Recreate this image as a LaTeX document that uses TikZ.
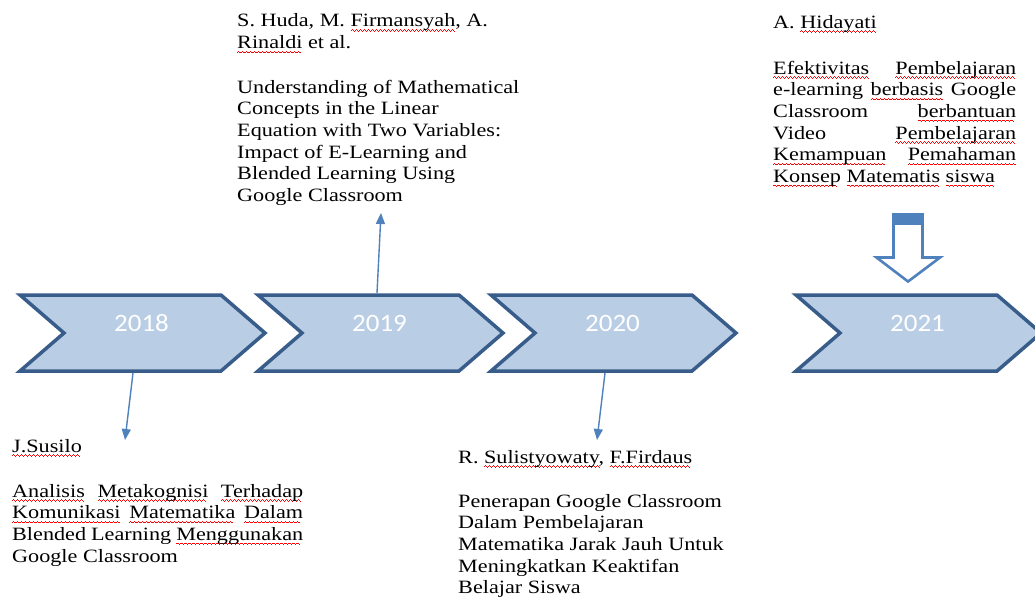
\documentclass[tikz,border=0pt]{standalone}
\usepackage{fontspec}
\setmainfont[FakeStretch=1.18]{Liberation Serif}
\newfontfamily\yearfont[FakeStretch=1.08]{Carlito}
\usetikzlibrary{arrows.meta}
\definecolor{chevfill}{RGB}{185,205,229}
\definecolor{chevline}{RGB}{56,93,138}
\definecolor{linkblue}{RGB}{79,129,189}
\newcommand\wavepiece{\hbox{{\color{red}\rule[0pt]{1pt}{0.7pt}\rule[0.6pt]{1pt}{0.7pt}\rule[0pt]{1pt}{0.7pt}\rule[-0.6pt]{1pt}{0.7pt}}}}
\newcommand\spell[1]{\setbox0\hbox{#1}\rlap{\raisebox{-3.6pt}[0pt][0pt]{\hbox to \wd0{\leaders\wavepiece\hfill}}}\box0\relax}
\newcommand\chevron[3]{%
  \draw[chev] (#1+5,295) -- (#1+206,295) -- (#1+250,333) -- (#1+206,371) -- (#1+5,371) -- (#1+49,333) -- cycle;
  \node[yearlabel] (#2) at (#1+126.5,331) {#3};}
\tikzset{
  chev/.style={draw=chevline, fill=chevfill, line width=3.5pt, line join=miter},
  yearlabel/.style={text=white, font=\yearfont\fontsize{25}{30}\selectfont, anchor=base, inner sep=0pt},
  txt/.style={font=\fontsize{18.8}{21.7}\selectfont, anchor=base west, inner sep=0pt, text=black},
  link/.style={draw=linkblue, line width=1.4pt, -{Triangle[length=11pt,width=9pt]}},
}
\begin{document}
\begin{tikzpicture}[x=1pt,y=-1pt]
\useasboundingbox (0,0) rectangle (1035,597);
\clip (0,0) rectangle (1035,597);
\fill[white] (0,0) rectangle (1035,597);

% chevrons
\chevron{15}{y2018}{2018}
\chevron{253}{y2019}{2019}
\chevron{486}{y2020}{2020}
\chevron{791}{y2021}{2021}

% text blocks
\node[txt] (h2019) at (237,27) {\vtop{\hbox{S. Huda, M. \spell{Firmansyah}, A.}\hbox{\spell{Rinaldi} et al.}}};
\node[txt] (b2019) at (237,93) {\vtop{%
  \hbox{Understanding of Mathematical}
  \hbox{Concepts in the Linear}
  \hbox{Equation with Two Variables:}
  \hbox{Impact of E-Learning and}
  \hbox{Blended Learning Using}
  \hbox{Google Classroom}}};

\node[txt] (h2021) at (773,28) {\vtop{\hbox{A. \spell{Hidayati}}}};
\node[txt] (b2021) at (773,74) {\vtop{%
  \hbox to 243pt{\spell{Efektivitas}\hfill\spell{Pembelajaran}}
  \hbox to 243pt{e-learning\hfill\spell{berbasis}\hfill Google}
  \hbox to 243pt{Classroom\hfill\spell{berbantuan}}
  \hbox to 243pt{Video\hfill\spell{Pembelajaran}}
  \hbox to 243pt{\spell{Kemampuan}\hfill\spell{Pemahaman}}
  \hbox{\spell{Konsep} \spell{Matematis} \spell{siswa}}}};

\node[txt] (h2018) at (12,452) {\vtop{\hbox{\spell{J.Susilo}}}};
\node[txt] (b2018) at (12,497) {\vtop{%
  \hbox to 291pt{\spell{Analisis}\hfill\spell{Metakognisi}\hfill\spell{Terhadap}}
  \hbox to 291pt{\spell{Komunikasi}\hfill\spell{Matematika}\hfill\spell{Dalam}}
  \hbox to 291pt{Blended\hfill Learning\hfill\spell{Menggunakan}}
  \hbox{Google Classroom}}};

\node[txt] (h2020) at (458,463) {\vtop{\hbox{R. \spell{Sulistyowaty,} \spell{F.Firdaus}}}};
\node[txt] (b2020) at (458,507) {\vtop{%
  \hbox{Penerapan Google Classroom}
  \hbox{Dalam Pembelajaran}
  \hbox{Matematika Jarak Jauh Untuk}
  \hbox{Meningkatkan Keaktifan}
  \hbox{Belajar Siswa}}};

% connectors
\coordinate (s2018) at (133,373);
\coordinate (e2018) at (125,440);
\coordinate (s2019) at (377,293);
\coordinate (e2019) at (381,213);
\coordinate (s2020) at (605,373);
\coordinate (e2020) at (597,440);
\draw[link] (s2018) -- (e2018);
\draw[link] (s2019) -- (e2019);
\draw[link] (s2020) -- (e2020);

% block arrow 2021
\draw[draw=linkblue, fill=white, line width=2.6pt, line join=miter]
  (893.5,214.5) -- (922.5,214.5) -- (922.5,257.5) -- (940,257.5) -- (908,281.5) -- (876.5,257.5) -- (893.5,257.5) -- cycle;
\fill[linkblue] (892,213) rectangle (924,225);
\end{tikzpicture}
\end{document}
